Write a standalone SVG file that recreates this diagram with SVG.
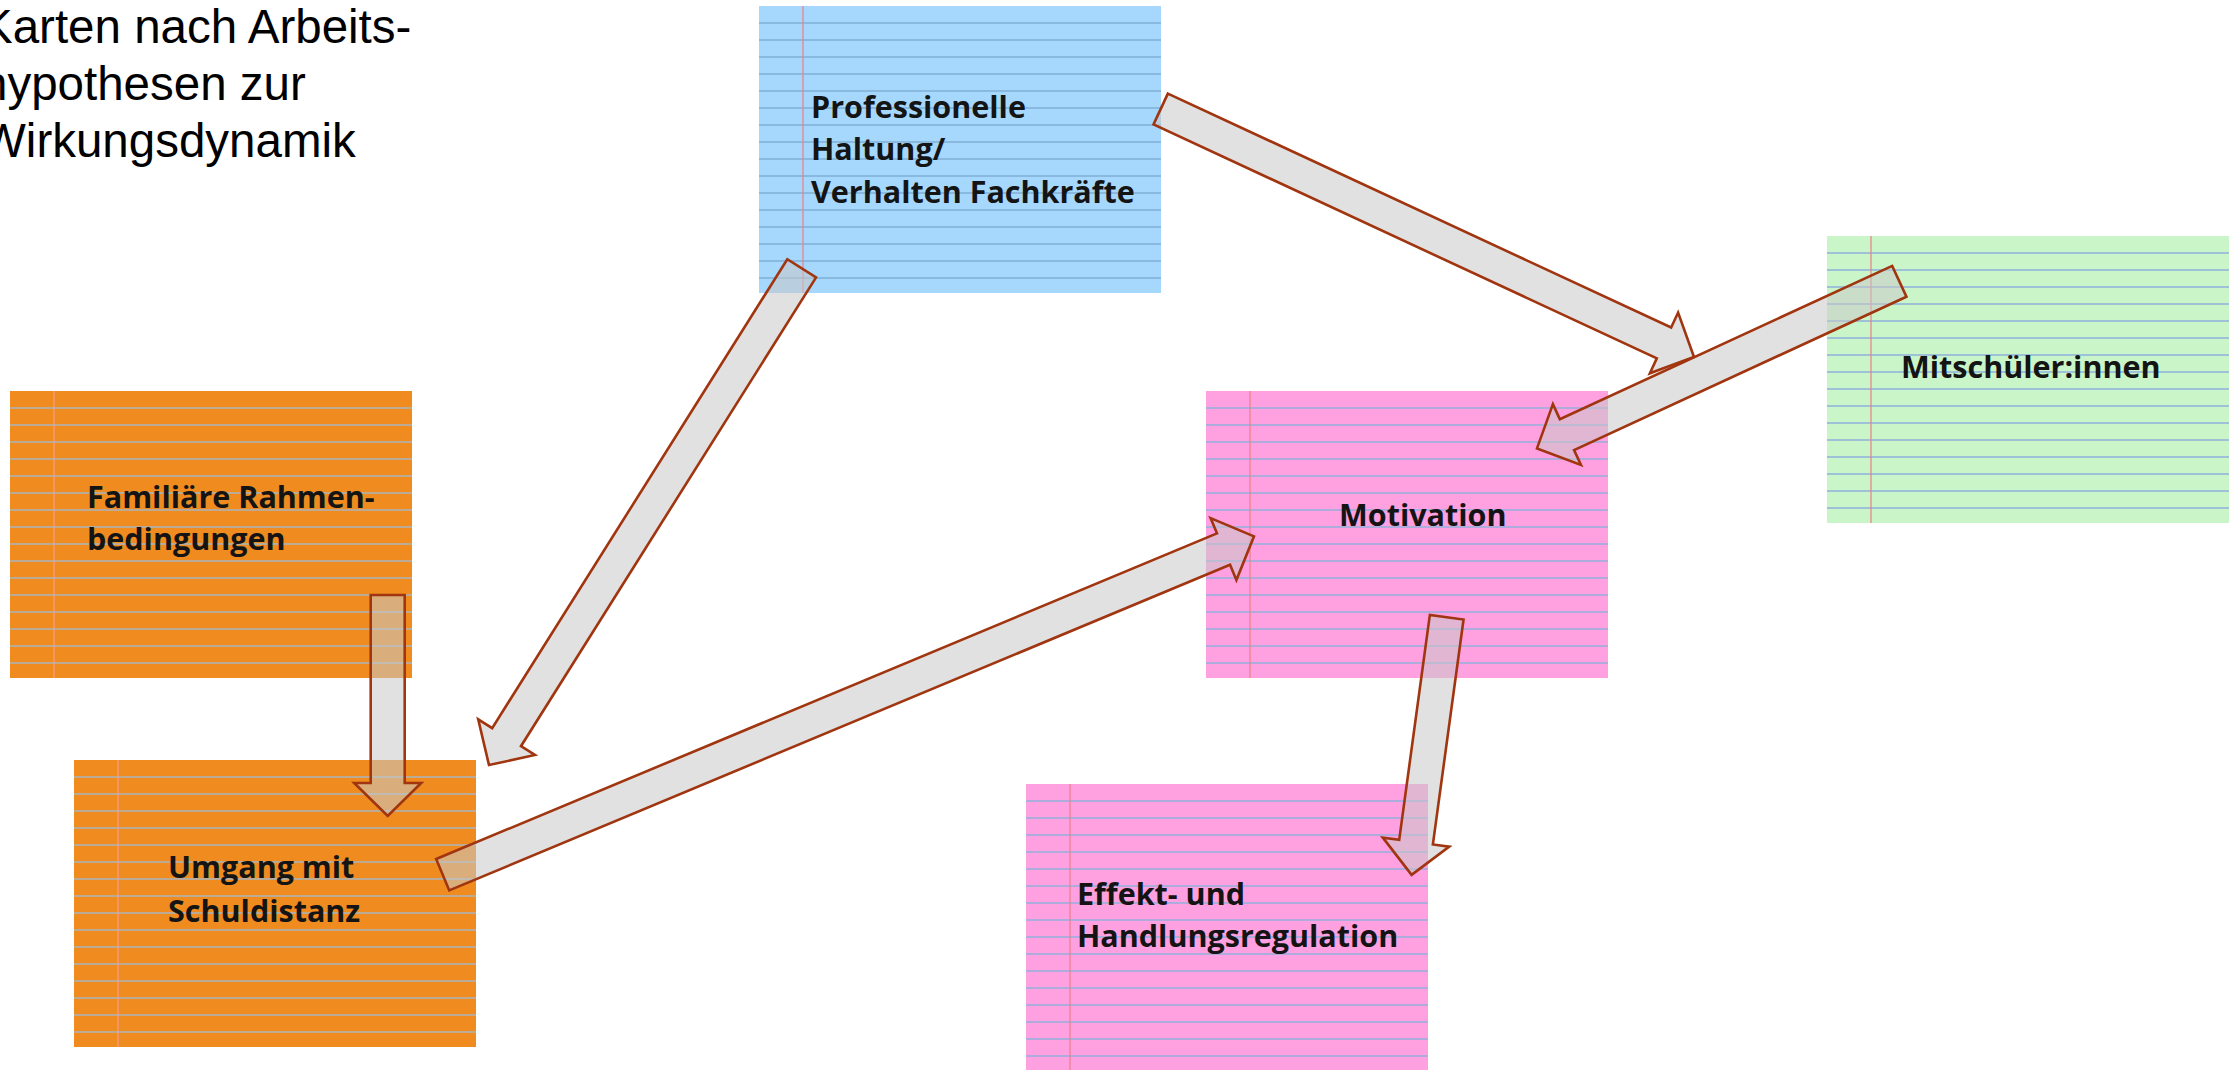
<svg xmlns="http://www.w3.org/2000/svg" xmlns:xlink="http://www.w3.org/1999/xlink" width="2237" height="1070" viewBox="0 0 2237 1070">
  <style>
    .title { font-family: "Liberation Sans", Arial, sans-serif; font-size: 47.5px; fill: #000; }
    .label { font-family: "Open Sans", "Noto Sans", sans-serif; font-weight: 700; font-size: 30.5px; fill: #141414; }
    .rules { fill: none; stroke-width: 1.4; }
    .margin { stroke: #EE7F88; stroke-width: 1.2; }
    .blue .paper { fill: #A6D8FD; }
    .blue .rules { stroke: #80AED3; }
    .orange .paper { fill: #F08C1F; }
    .orange .rules { stroke: #A8B4BE; }
    .orange .margin { stroke: #F0A08C; }
    .green .paper { fill: #C9F5C9; }
    .green .rules { stroke: #8FB0DC; }
    .pink .paper { fill: #FFA0E0; }
    .pink .rules { stroke: #92B0DA; }
    .arrow { fill: #C8C8C8; fill-opacity: 0.55; stroke: #A0350F; stroke-width: 2.6; stroke-linejoin: miter; }
  </style>
  <defs>
    <!-- ruled index card: 402 x 287, 16 rules every 17px, margin at 44px -->
    <rect id="paper" width="402" height="287"/>
    <path id="ruling" d="M0 17H402M0 34H402M0 51H402M0 68H402M0 85H402M0 102H402M0 119H402M0 136H402M0 153H402M0 170H402M0 187H402M0 204H402M0 221H402M0 238H402M0 255H402M0 272H402"/>
    <path id="marginline" d="M44 0V287"/>
  </defs>

  <rect width="2237" height="1070" fill="#FFFFFF"/>

  <text class="title" x="-19">
    <tspan x="-19" y="43">Karten nach Arbeits-</tspan>
    <tspan x="-19" y="100">hypothesen zur</tspan>
    <tspan x="-19" y="157">Wirkungsdynamik</tspan>
  </text>

  <g id="card-haltung" class="blue" transform="translate(759 6)">
    <use xlink:href="#paper" class="paper"/>
    <use xlink:href="#ruling" class="rules"/>
    <use xlink:href="#marginline" class="margin"/>
    <text class="label"><tspan x="52" y="112">Professionelle</tspan><tspan x="52" y="154">Haltung/</tspan><tspan x="52" y="197">Verhalten Fachkräfte</tspan></text>
  </g>

  <g id="card-familie" class="orange" transform="translate(10 391)">
    <use xlink:href="#paper" class="paper"/>
    <use xlink:href="#ruling" class="rules"/>
    <use xlink:href="#marginline" class="margin"/>
    <text class="label"><tspan x="77" y="117">Familiäre Rahmen-</tspan><tspan x="77" y="159">bedingungen</tspan></text>
  </g>

  <g id="card-mitschueler" class="green" transform="translate(1827 236)">
    <use xlink:href="#paper" class="paper"/>
    <use xlink:href="#ruling" class="rules"/>
    <use xlink:href="#marginline" class="margin"/>
    <text class="label" x="74" y="142">Mitschüler:innen</text>
  </g>

  <g id="card-motivation" class="pink" transform="translate(1206 391)">
    <use xlink:href="#paper" class="paper"/>
    <use xlink:href="#ruling" class="rules"/>
    <use xlink:href="#marginline" class="margin"/>
    <text class="label" x="133" y="135">Motivation</text>
  </g>

  <g id="card-regulation" class="pink" transform="translate(1026 784)">
    <use xlink:href="#paper" class="paper"/>
    <use xlink:href="#ruling" class="rules"/>
    <use xlink:href="#marginline" class="margin"/>
    <text class="label"><tspan x="51" y="121">Effekt- und</tspan><tspan x="51" y="163">Handlungsregulation</tspan></text>
  </g>

  <g id="card-schuldistanz" class="orange" transform="translate(74 760)">
    <use xlink:href="#paper" class="paper"/>
    <use xlink:href="#ruling" class="rules"/>
    <use xlink:href="#marginline" class="margin"/>
    <text class="label"><tspan x="94" y="118">Umgang mit</tspan><tspan x="94" y="162">Schuldistanz</tspan></text>
  </g>

  <!-- block arrows: tail at origin, pointing along +x, shaft 34 wide, head 67 wide / 33 long -->
  <g id="connectors">
    <polygon class="arrow" transform="translate(1160.7 109) rotate(24.93)" points="0,-17 555,-17 555,-33.5 588,0 555,33.5 555,17 0,17"/>
    <polygon class="arrow" transform="translate(1899.3 281.3) rotate(155.24)" points="0,-17 366,-17 366,-33.5 399,0 366,33.5 366,17 0,17"/>
    <polygon class="arrow" transform="translate(801.7 268.3) rotate(122.19)" points="0,-17 554,-17 554,-33.5 587,0 554,33.5 554,17 0,17"/>
    <polygon class="arrow" transform="translate(387.7 595) rotate(90)" points="0,-17 188,-17 188,-33.5 221,0 188,33.5 188,17 0,17"/>
    <polygon class="arrow" transform="translate(442.7 874.7) rotate(-22.64)" points="0,-17 846,-17 846,-33.5 879,0 846,33.5 846,17 0,17"/>
    <polygon class="arrow" transform="translate(1446.7 617.2) rotate(97.76)" points="0,-17 227,-17 227,-33.5 260,0 227,33.5 227,17 0,17"/>
  </g>
</svg>
